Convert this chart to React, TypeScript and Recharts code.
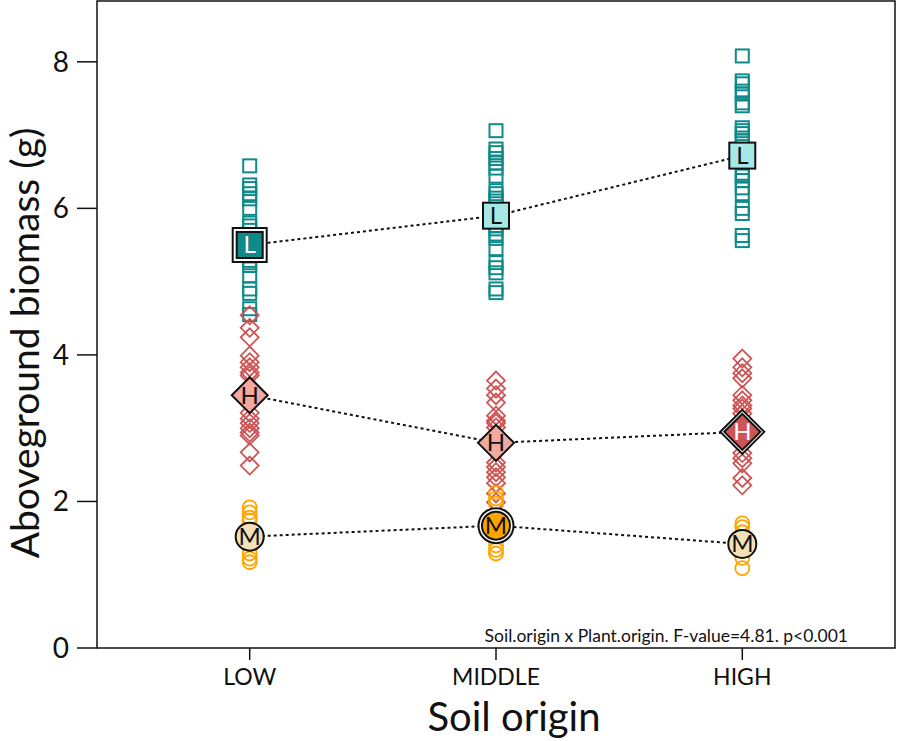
import { ReferenceArea, Scatter, ScatterChart, XAxis, YAxis } from 'recharts'

const soilOrigins = ['LOW', 'MIDDLE', 'HIGH']
const yTicks = [0, 2, 4, 6, 8]

// individual plants, per plant origin (L / H / M) and soil origin
const lowlandOnLow = [6.58, 6.32, 6.27, 6.2, 6.13, 6.0, 5.8, 5.76, 5.7, 5.6, 5.5, 5.42, 5.35, 5.29, 5.22, 5.08, 4.9, 4.84, 4.63, 4.55]
const lowlandOnMiddle = [7.06, 6.81, 6.76, 6.68, 6.62, 6.55, 6.44, 6.24, 6.2, 6.14, 6.1, 5.94, 5.76, 5.72, 5.65, 5.59, 5.45, 5.26, 5.19, 5.12, 4.9, 4.85]
const lowlandOnHigh = [8.08, 7.74, 7.7, 7.6, 7.56, 7.44, 7.4, 7.1, 7.06, 7.02, 6.96, 6.92, 6.69, 6.48, 6.44, 6.38, 6.28, 6.2, 6.0, 5.93, 5.63, 5.56]

const highlandOnLow = [4.54, 4.37, 4.24, 3.99, 3.9, 3.83, 3.76, 3.72, 3.42, 3.21, 3.13, 3.07, 3.0, 2.94, 2.9, 2.67, 2.49]
const highlandOnMiddle = [3.65, 3.54, 3.45, 3.35, 3.17, 3.1, 3.07, 3.01, 2.77, 2.53, 2.47, 2.4, 2.33, 2.25, 2.11, 1.99]
const highlandOnHigh = [3.95, 3.83, 3.75, 3.68, 3.45, 3.38, 3.31, 3.27, 3.2, 2.94, 2.77, 2.66, 2.59, 2.52, 2.32, 2.22]

const middleOnLow = [1.92, 1.85, 1.78, 1.74, 1.29, 1.22, 1.17]
const middleOnMiddle = [2.12, 2.04, 1.97, 1.4, 1.34, 1.29]
const middleOnHigh = [1.7, 1.65, 1.58, 1.23, 1.09]

// group means
const lowlandMeans = [5.5, 5.9, 6.72]
const highlandMeans = [3.45, 2.8, 2.95]
const middleMeans = [1.52, 1.67, 1.42]
// which soil is "home" for each plant origin (index into soilOrigins)
const homeSoil = { L: 0, M: 1, H: 2 }

const TEAL = '#0e8a8a'
const RED = '#cd5555'
const ORANGE = '#ffa500'
const FONT = 'Lato, "Open Sans", sans-serif'

function pts(cols: number[][]) {
  return cols.flatMap((vals, i) => vals.map((y) => ({ x: i + 1, y })))
}

function means(vals: number[], home: number) {
  return vals.map((y, i) => ({ x: i + 1, y, home: i === home }))
}

const squareDot = (p: any) => (
  <rect x={p.cx - 6.5} y={p.cy - 6.5} width={13} height={13} fill="none" stroke={TEAL} strokeWidth={2} />
)
const diamondDot = (p: any) => (
  <path
    d={`M${p.cx},${p.cy - 9}L${p.cx + 9},${p.cy}L${p.cx},${p.cy + 9}L${p.cx - 9},${p.cy}Z`}
    fill="none"
    stroke={RED}
    strokeWidth={1.8}
  />
)
const circleDot = (p: any) => <circle cx={p.cx} cy={p.cy} r={7} fill="none" stroke={ORANGE} strokeWidth={1.8} />

function letter(cx: number, cy: number, s: string, white: boolean) {
  return (
    <text x={cx} y={cy + 8.5} textAnchor="middle" fontSize={24} fontFamily={FONT} fill={white ? '#fff' : '#111'}>
      {s}
    </text>
  )
}

const lowlandMean = (p: any) => {
  const { cx, cy } = p
  const home = p.payload.home
  return (
    <g>
      {home && <rect x={cx - 17} y={cy - 17} width={34} height={34} fill="#fff" stroke="#111" strokeWidth={2} />}
      <rect x={cx - 13} y={cy - 13} width={26} height={26} fill={home ? TEAL : '#a6e8e6'} stroke="#111" strokeWidth={2} />
      {letter(cx, cy, 'L', home)}
    </g>
  )
}
const highlandMean = (p: any) => {
  const { cx, cy } = p
  const home = p.payload.home
  const dia = (r: number) => `M${cx},${cy - r}L${cx + r},${cy}L${cx},${cy + r}L${cx - r},${cy}Z`
  return (
    <g>
      {home && <path d={dia(22)} fill="#fff" stroke="#111" strokeWidth={2} />}
      <path d={dia(18)} fill={home ? RED : '#f2aa9e'} stroke="#111" strokeWidth={2} />
      {letter(cx, cy, 'H', home)}
    </g>
  )
}
const middleMean = (p: any) => {
  const { cx, cy } = p
  const home = p.payload.home
  return (
    <g>
      {home && <circle cx={cx} cy={cy} r={17.5} fill="#fff" stroke="#111" strokeWidth={2} />}
      <circle cx={cx} cy={cy} r={14} fill={home ? ORANGE : '#f4e0b6'} stroke="#111" strokeWidth={2} />
      {letter(cx, cy, 'M', false)}
    </g>
  )
}

const meanLine = { stroke: '#111', strokeWidth: 2, strokeDasharray: '3 3' }

export default function App() {
  return (
    <div style={{ position: 'absolute', left: 0, top: 0, background: '#fff' }}>
      <ScatterChart width={898} height={741} margin={{ top: 1, right: 3, left: 0, bottom: 0 }}>
        <XAxis
          type="number"
          dataKey="x"
          domain={[0.38, 3.62]}
          ticks={[1, 2, 3]}
          tickFormatter={(v) => soilOrigins[v - 1]}
          allowDataOverflow
          height={93}
          axisLine={false}
          tickSize={12}
          tickMargin={9}
          tickLine={{ stroke: '#111', strokeWidth: 1.5 }}
          tick={{ fontSize: 23, fill: '#111', fontFamily: FONT }}
          label={(props: any) => (
            <text x={514} y={731} textAnchor="middle" fontSize={40} fontFamily={FONT} fill="#111">
              Soil origin
            </text>
          )}
        />
        <YAxis
          type="number"
          dataKey="y"
          domain={[0, 8.83]}
          ticks={yTicks}
          allowDataOverflow
          width={97}
          axisLine={false}
          tickSize={20}
          tickMargin={8}
          tickLine={{ stroke: '#111', strokeWidth: 1.5 }}
          tick={{ fontSize: 28, fill: '#111', fontFamily: FONT }}
          label={(props: any) => (
            <text
              x={39}
              y={343}
              transform="rotate(-90, 39, 343)"
              textAnchor="middle"
              fontSize={39}
              fontFamily={FONT}
              fill="#111"
            >
              Aboveground biomass (g)
            </text>
          )}
        />
        <ReferenceArea
          x1={0.38}
          x2={3.62}
          y1={0}
          y2={8.83}
          fill="none"
          stroke="#111"
          strokeWidth={1.5}
          ifOverflow="visible"
          label={(props: any) => {
            const vb = props.viewBox
            return (
              <text x={vb.x + vb.width - 47} y={vb.y + vb.height - 6} textAnchor="end" fontSize={17.5} fontFamily={FONT} fill="#111">
                Soil.origin x Plant.origin. F-value=4.81. p&lt;0.001
              </text>
            )
          }}
        />
        <Scatter data={pts([lowlandOnLow, lowlandOnMiddle, lowlandOnHigh])} shape={squareDot} isAnimationActive={false} />
        <Scatter data={pts([highlandOnLow, highlandOnMiddle, highlandOnHigh])} shape={diamondDot} isAnimationActive={false} />
        <Scatter data={pts([middleOnLow, middleOnMiddle, middleOnHigh])} shape={circleDot} isAnimationActive={false} />
        <Scatter data={means(lowlandMeans, homeSoil.L)} line={meanLine} shape={lowlandMean} isAnimationActive={false} />
        <Scatter data={means(highlandMeans, homeSoil.H)} line={meanLine} shape={highlandMean} isAnimationActive={false} />
        <Scatter data={means(middleMeans, homeSoil.M)} line={meanLine} shape={middleMean} isAnimationActive={false} />
      </ScatterChart>
    </div>
  )
}
